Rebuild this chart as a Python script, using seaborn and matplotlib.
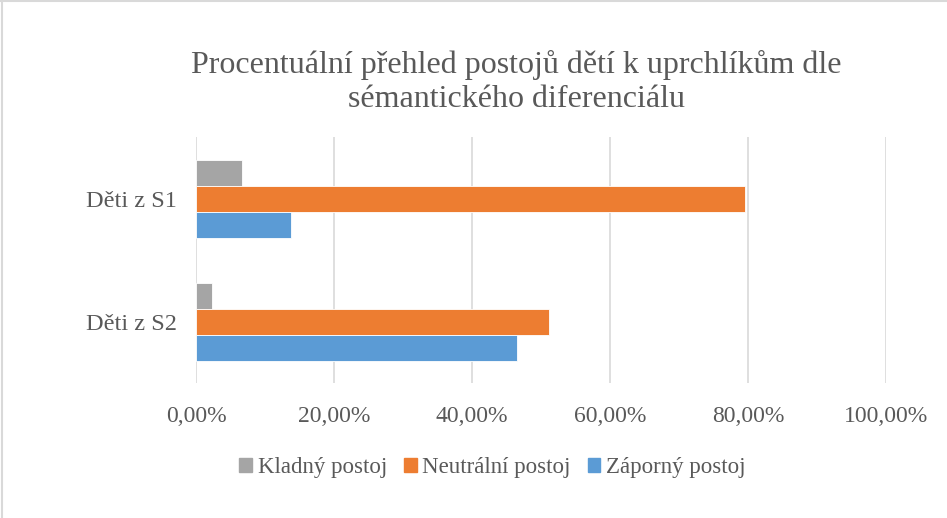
import pandas as pd
import matplotlib.pyplot as plt
import seaborn as sns
from matplotlib.lines import Line2D

groups = ["Děti z S1", "Děti z S2"]
series = ["Kladný postoj", "Neutrální postoj", "Záporný postoj"]
kladny = [6.7, 2.3]
neutralni = [79.5, 51.2]
zaporny = [13.8, 46.5]
x_ticks = [0, 20, 40, 60, 80, 100]
x_tick_labels = ["0,00%", "20,00%", "40,00%", "60,00%", "80,00%", "100,00%"]
colors = ["#A5A5A5", "#ED7D31", "#5B9BD5"]

rows = []
for name, vals in zip(series, [kladny, neutralni, zaporny]):
    for g, v in zip(groups, vals):
        rows.append({"skupina": g, "postoj": name, "procenta": v})
df = pd.DataFrame(rows)

sns.set_theme(style="white")
plt.rcParams["font.family"] = ["Liberation Serif", "DejaVu Serif"]
text_color = "#595959"

fig = plt.figure(figsize=(9.47, 5.18), dpi=100)
# chart border (left and top visible in the reference)
fig.add_artist(Line2D([0.002, 0.002], [0, 1], transform=fig.transFigure, color="#D9D9D9", lw=1.5))
fig.add_artist(Line2D([0, 1], [0.998, 0.998], transform=fig.transFigure, color="#D9D9D9", lw=1.5))
ax = fig.add_axes([0.207, 0.26, 0.729, 0.475])

sns.barplot(data=df, x="procenta", y="skupina", hue="postoj",
            order=groups, hue_order=series, palette=colors, saturation=1,
            width=0.63, edgecolor="white", linewidth=0.6, ax=ax)

ax.set_xlim(0, 100)
ax.set_xticks(x_ticks)
ax.set_xticklabels(x_tick_labels)
ax.set_xlabel("")
ax.set_ylabel("")
ax.grid(axis="x", color="#D9D9D9", linewidth=1.2)
ax.set_axisbelow(True)
for s in ax.spines.values():
    s.set_visible(False)
ax.tick_params(axis="x", length=0, pad=16, labelsize=17, labelcolor=text_color)
ax.tick_params(axis="y", length=0, pad=14, labelsize=17.5, labelcolor=text_color)

fig.text(0.545, 0.842, "Procentuální přehled postojů dětí k uprchlíkům dle\nsémantického diferenciálu",
         ha="center", va="center", fontsize=23, color=text_color, linespacing=1.2)

ax.get_legend().remove()
handles = [plt.Rectangle((0, 0), 1, 1, color=c) for c in colors]
fig.legend(handles, series, loc="center", bbox_to_anchor=(0.52, 0.097), ncol=3,
           frameon=False, fontsize=16.5, labelcolor=text_color,
           handlelength=0.55, handleheight=0.55, handletextpad=0.25, columnspacing=0.75)

fig.savefig("out.png", dpi=100)
